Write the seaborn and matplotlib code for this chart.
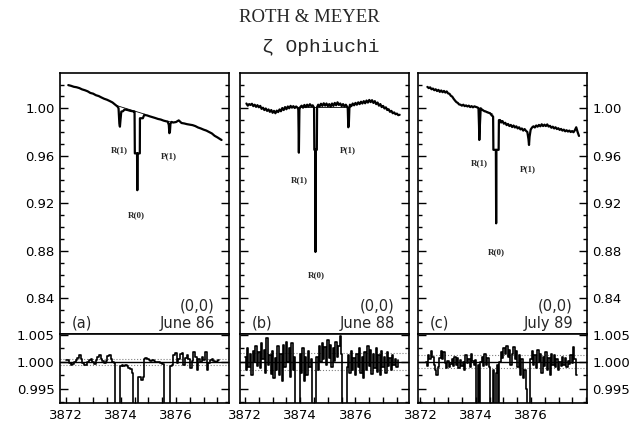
import numpy as np
import matplotlib
matplotlib.use('Agg')
import matplotlib.pyplot as plt
import seaborn as sns
from matplotlib.ticker import MultipleLocator, FormatStrFormatter, FixedLocator

sns.set_style('ticks')
plt.rcParams['font.family'] = ['DejaVu Sans']

# ---- panel (a) June 86 : normalised flux ----
wave_a = [3872.10, 3872.20, 3872.30, 3872.40, 3872.50, 3872.60, 3872.70, 3872.80, 3872.90, 3873.00,
          3873.10, 3873.20, 3873.30, 3873.40, 3873.50, 3873.60, 3873.70, 3873.80, 3873.88, 3873.92,
          3873.95, 3873.97, 3873.99, 3874.02, 3874.08, 3874.14, 3874.25, 3874.35, 3874.45, 3874.50,
          3874.51, 3874.59, 3874.60, 3874.61, 3874.69, 3874.695, 3874.80, 3874.85, 3874.95, 3875.05,
          3875.15, 3875.25, 3875.35, 3875.45, 3875.55, 3875.65, 3875.70, 3875.74, 3875.76, 3875.78,
          3875.80, 3875.84, 3875.90, 3876.00, 3876.10, 3876.20, 3876.30, 3876.40, 3876.50, 3876.60,
          3876.70, 3876.80, 3876.90, 3877.00, 3877.10, 3877.20, 3877.30, 3877.40, 3877.50, 3877.60,
          3877.65]
flux_a = [1.0195, 1.0189, 1.0181, 1.0177, 1.0170, 1.0159, 1.0152, 1.0143, 1.0129, 1.0123,
          1.0110, 1.0103, 1.0091, 1.0080, 1.0072, 1.0061, 1.0049, 1.0030, 1.0015, 1.0000,
          0.9870, 0.9845, 0.9900, 0.9972, 0.9975, 0.9990, 0.9985, 0.9978, 0.9974, 0.9972,
          0.9620, 0.9620, 0.9310, 0.9620, 0.9620, 0.9916, 0.9916, 0.9944, 0.9940, 0.9932,
          0.9925, 0.9918, 0.9910, 0.9905, 0.9896, 0.9890, 0.9888, 0.9860, 0.9790, 0.9800,
          0.9870, 0.9885, 0.9880, 0.9884, 0.9898, 0.9876, 0.9872, 0.9866, 0.9862, 0.9858,
          0.9850, 0.9838, 0.9830, 0.9820, 0.9812, 0.9800, 0.9788, 0.9768, 0.9755, 0.9740,
          0.9733]
fitw_a = [[3873.82, 3874.90], [3875.66, 3875.86]]
fitf_a = [[1.0025, 0.9948], [0.9890, 0.9884]]

# ---- panel (b) June 88 ----
wave_b = [3872.05, 3872.10, 3872.15, 3872.20, 3872.25, 3872.30, 3872.35, 3872.40, 3872.45, 3872.50,
          3872.55, 3872.60, 3872.65, 3872.70, 3872.75, 3872.80, 3872.85, 3872.90, 3872.95, 3873.00,
          3873.05, 3873.10, 3873.15, 3873.20, 3873.25, 3873.30, 3873.35, 3873.40, 3873.45, 3873.50,
          3873.55, 3873.60, 3873.65, 3873.70, 3873.75, 3873.80, 3873.85, 3873.90, 3873.93, 3873.95,
          3873.97, 3874.00, 3874.05, 3874.10, 3874.15, 3874.20, 3874.25, 3874.30, 3874.35, 3874.40,
          3874.45, 3874.50, 3874.51, 3874.54, 3874.55, 3874.56, 3874.60, 3874.61, 3874.65, 3874.70,
          3874.75, 3874.80, 3874.85, 3874.90, 3874.95, 3875.00, 3875.05, 3875.10, 3875.15, 3875.20,
          3875.25, 3875.30, 3875.35, 3875.40, 3875.45, 3875.50, 3875.55, 3875.60, 3875.65, 3875.70,
          3875.72, 3875.74, 3875.76, 3875.78, 3875.80, 3875.85, 3875.90, 3875.95, 3876.00, 3876.05,
          3876.10, 3876.15, 3876.20, 3876.25, 3876.30, 3876.35, 3876.40, 3876.45, 3876.50, 3876.55,
          3876.60, 3876.65, 3876.70, 3876.75, 3876.80, 3876.85, 3876.90, 3876.95, 3877.00, 3877.05,
          3877.10, 3877.15, 3877.20, 3877.25, 3877.30, 3877.35, 3877.40, 3877.45, 3877.50, 3877.55,
          3877.60]
flux_b = [1.0040, 1.0022, 1.0035, 1.0028, 1.0038, 1.0018, 1.0030, 1.0012, 1.0026, 1.0008,
          1.0020, 0.9995, 1.0005, 0.9985, 0.9998, 0.9978, 0.9990, 0.9970, 0.9985, 0.9962,
          0.9978, 0.9958, 0.9980, 0.9968, 0.9990, 0.9975, 1.0002, 0.9985, 1.0010, 0.9992,
          1.0015, 1.0000, 1.0020, 1.0005, 1.0018, 1.0002, 1.0015, 1.0005, 0.9990, 0.9626,
          0.9990, 1.0010, 1.0022, 1.0005, 1.0028, 1.0010, 1.0030, 1.0015, 1.0034, 1.0018,
          1.0025, 1.0005, 0.9650, 0.9650, 0.8790, 0.9650, 0.9650, 1.0010, 1.0030, 1.0015,
          1.0038, 1.0020, 1.0042, 1.0022, 1.0040, 1.0018, 1.0035, 1.0012, 1.0040, 1.0020,
          1.0045, 1.0025, 1.0050, 1.0028, 1.0040, 1.0018, 1.0035, 1.0015, 1.0030, 1.0012,
          1.0000, 0.9840, 0.9870, 1.0005, 1.0030, 1.0018, 1.0040, 1.0025, 1.0045, 1.0030,
          1.0050, 1.0035, 1.0055, 1.0040, 1.0060, 1.0042, 1.0065, 1.0048, 1.0070, 1.0052,
          1.0068, 1.0045, 1.0060, 1.0035, 1.0048, 1.0022, 1.0035, 1.0010, 1.0020, 0.9998,
          1.0008, 0.9985, 0.9992, 0.9970, 0.9978, 0.9958, 0.9965, 0.9950, 0.9955, 0.9942,
          0.9945]
fitw_b = [[3873.85, 3875.80]]
fitf_b = [[1.0012, 1.0012]]

# ---- panel (c) July 89 ----
wave_c = [3872.25, 3872.30, 3872.35, 3872.40, 3872.45, 3872.50, 3872.55, 3872.60, 3872.65, 3872.70,
          3872.75, 3872.80, 3872.85, 3872.90, 3872.95, 3873.00, 3873.05, 3873.10, 3873.15, 3873.20,
          3873.25, 3873.30, 3873.35, 3873.40, 3873.45, 3873.50, 3873.55, 3873.60, 3873.65, 3873.70,
          3873.75, 3873.80, 3873.85, 3873.90, 3873.95, 3874.00, 3874.05, 3874.10, 3874.12, 3874.13,
          3874.15, 3874.18, 3874.22, 3874.27, 3874.32, 3874.37, 3874.42, 3874.47, 3874.52, 3874.58,
          3874.63, 3874.64, 3874.73, 3874.74, 3874.75, 3874.83, 3874.84, 3874.88, 3874.92, 3874.97,
          3875.02, 3875.07, 3875.12, 3875.17, 3875.22, 3875.27, 3875.32, 3875.37, 3875.42, 3875.47,
          3875.52, 3875.57, 3875.62, 3875.67, 3875.72, 3875.77, 3875.82, 3875.87, 3875.91, 3875.93,
          3875.95, 3875.99, 3876.04, 3876.09, 3876.14, 3876.19, 3876.24, 3876.29, 3876.34, 3876.39,
          3876.44, 3876.49, 3876.54, 3876.59, 3876.64, 3876.69, 3876.74, 3876.79, 3876.84, 3876.89,
          3876.94, 3876.99, 3877.04, 3877.09, 3877.14, 3877.19, 3877.24, 3877.29, 3877.34, 3877.39,
          3877.44, 3877.49, 3877.54, 3877.59, 3877.64, 3877.69, 3877.74]
flux_c = [1.0180, 1.0170, 1.0176, 1.0160, 1.0166, 1.0152, 1.0160, 1.0145, 1.0155, 1.0138,
          1.0150, 1.0135, 1.0146, 1.0132, 1.0142, 1.0125, 1.0122, 1.0105, 1.0098, 1.0080,
          1.0065, 1.0052, 1.0045, 1.0032, 1.0030, 1.0022, 1.0030, 1.0018, 1.0024, 1.0015,
          1.0022, 1.0010, 1.0018, 1.0008, 1.0016, 1.0012, 1.0008, 1.0002, 0.9850, 0.9733,
          0.9850, 1.0000, 0.9990, 0.9982, 0.9975, 0.9972, 0.9966, 0.9962, 0.9958, 0.9940,
          0.9930, 0.9650, 0.9650, 0.9031, 0.9650, 0.9650, 0.9900, 0.9901, 0.9880, 0.9892,
          0.9870, 0.9878, 0.9858, 0.9868, 0.9850, 0.9860, 0.9842, 0.9855, 0.9838, 0.9848,
          0.9830, 0.9840, 0.9822, 0.9830, 0.9812, 0.9825, 0.9810, 0.9800, 0.9740, 0.9691,
          0.9760, 0.9820, 0.9838, 0.9848, 0.9838, 0.9855, 0.9845, 0.9860, 0.9848, 0.9865,
          0.9850, 0.9862, 0.9850, 0.9864, 0.9846, 0.9852, 0.9836, 0.9845, 0.9830, 0.9840,
          0.9825, 0.9832, 0.9818, 0.9826, 0.9812, 0.9820, 0.9806, 0.9815, 0.9804, 0.9812,
          0.9800, 0.9808, 0.9798, 0.9815, 0.9840, 0.9800, 0.9767]
fitw_c = [[3874.00, 3874.62], [3874.84, 3874.92]]
fitf_c = [[1.0010, 0.9950], [0.9901, 0.9901]]

# ---- residuals (data / fit) ----
rwave_a = [3872.03, 3872.10, 3872.16, 3872.22, 3872.28, 3872.34, 3872.40, 3872.46, 3872.52, 3872.58,
           3872.64, 3872.70, 3872.76, 3872.82, 3872.88, 3872.94, 3873.00, 3873.06, 3873.12, 3873.18,
           3873.24, 3873.30, 3873.36, 3873.42, 3873.48, 3873.54, 3873.60, 3873.66, 3873.72, 3873.78,
           3873.82, 3873.88, 3873.96, 3874.00, 3874.06, 3874.12, 3874.18, 3874.24, 3874.30, 3874.36,
           3874.42, 3874.48, 3874.54, 3874.60, 3874.64, 3874.70, 3874.76, 3874.82, 3874.86, 3874.92,
           3874.98, 3875.04, 3875.10, 3875.16, 3875.22, 3875.28, 3875.34, 3875.40, 3875.46, 3875.52,
           3875.58, 3875.64, 3875.70, 3875.76, 3875.82, 3875.88, 3875.94, 3876.00, 3876.06, 3876.12,
           3876.18, 3876.24, 3876.30, 3876.36, 3876.42, 3876.48, 3876.54, 3876.60, 3876.66, 3876.72,
           3876.78, 3876.84, 3876.90, 3876.96, 3877.02, 3877.08, 3877.14, 3877.20, 3877.26, 3877.32,
           3877.38, 3877.44, 3877.50, 3877.56]
resid_a = [1.0004, 1.0003, 0.9997, 0.9994, 0.9996, 1.0000, 1.0003, 1.0008, 1.0012, 1.0006,
           0.9998, 0.9994, 0.9995, 1.0000, 1.0004, 1.0006, 1.0000, 0.9996, 1.0003, 1.0009,
           1.0012, 1.0006, 1.0001, 0.9998, 1.0002, 1.0011, 1.0013, 1.0005, 1.0000, 0.9998,
           0.9900, 0.9900, 0.9900, 0.9992, 0.9994, 0.9993, 0.9994, 0.9992, 0.9989, 0.9986,
           0.9980, 0.9900, 0.9900, 0.9900, 0.9972, 0.9971, 0.9966, 0.9972, 1.0006, 1.0007,
           1.0005, 1.0004, 1.0002, 1.0003, 1.0001, 1.0000, 0.9999, 1.0000, 0.9997, 0.9996,
           0.9900, 0.9900, 0.9900, 0.9900, 0.9992, 0.9994, 1.0012, 1.0016, 0.9998, 1.0006,
           1.0015, 1.0016, 0.9995, 1.0008, 1.0013, 1.0005, 0.9988, 1.0002, 1.0018, 1.0010,
           0.9985, 1.0006, 1.0000, 1.0010, 1.0003, 1.0019, 0.9985, 0.9998, 1.0004, 1.0006,
           1.0002, 1.0000, 1.0002, 1.0004]

rwave_b = [3872.00, 3872.05, 3872.10, 3872.15, 3872.20, 3872.25, 3872.30, 3872.35, 3872.40, 3872.45,
           3872.50, 3872.55, 3872.60, 3872.65, 3872.70, 3872.75, 3872.80, 3872.85, 3872.90, 3872.95,
           3873.00, 3873.05, 3873.10, 3873.15, 3873.20, 3873.25, 3873.30, 3873.35, 3873.40, 3873.45,
           3873.50, 3873.55, 3873.60, 3873.65, 3873.70, 3873.75, 3873.80, 3873.85, 3873.90, 3873.95,
           3874.00, 3874.05, 3874.10, 3874.15, 3874.20, 3874.25, 3874.30, 3874.35, 3874.40, 3874.45,
           3874.50, 3874.55, 3874.60, 3874.65, 3874.70, 3874.75, 3874.80, 3874.85, 3874.90, 3874.95,
           3875.00, 3875.05, 3875.10, 3875.15, 3875.20, 3875.25, 3875.30, 3875.35, 3875.40, 3875.45,
           3875.50, 3875.55, 3875.60, 3875.65, 3875.70, 3875.75, 3875.80, 3875.85, 3875.90, 3875.95,
           3876.00, 3876.05, 3876.10, 3876.15, 3876.20, 3876.25, 3876.30, 3876.35, 3876.40, 3876.45,
           3876.50, 3876.55, 3876.60, 3876.65, 3876.70, 3876.75, 3876.80, 3876.85, 3876.90, 3876.95,
           3877.00, 3877.05, 3877.10, 3877.15, 3877.20, 3877.25, 3877.30, 3877.35, 3877.40, 3877.45,
           3877.50, 3877.55]
resid_b = [1.0010, 0.9985, 1.0025, 0.9990, 1.0015, 0.9975, 1.0020, 1.0000, 1.0030, 0.9992,
           1.0018, 0.9988, 1.0035, 1.0005, 1.0022, 0.9980, 1.0045, 0.9995, 1.0012, 0.9978,
           1.0020, 0.9970, 1.0008, 0.9985, 1.0030, 0.9975, 1.0015, 0.9965, 1.0032, 0.9990,
           1.0038, 1.0000, 1.0025, 0.9972, 1.0035, 0.9985, 1.0010, 0.9900, 0.9900, 0.9900,
           1.0015, 0.9980, 1.0025, 0.9965, 1.0010, 0.9975, 1.0020, 0.9990, 1.0005, 0.9900,
           0.9900, 0.9900, 1.0010, 0.9985, 1.0030, 1.0000, 1.0035, 1.0005, 1.0028, 0.9995,
           1.0040, 1.0008, 1.0032, 0.9990, 1.0025, 1.0002, 1.0038, 1.0010, 1.0030, 1.0048,
           1.0015, 0.9900, 0.9900, 0.9900, 0.9990, 1.0012, 0.9980, 1.0020, 0.9985, 1.0008,
           0.9975, 1.0015, 0.9990, 1.0025, 0.9980, 1.0010, 0.9970, 1.0018, 0.9985, 1.0030,
           0.9992, 1.0022, 0.9978, 1.0015, 0.9988, 1.0026, 0.9982, 1.0012, 0.9975, 1.0020,
           0.9990, 1.0010, 0.9980, 1.0018, 0.9992, 1.0008, 0.9985, 1.0012, 0.9995, 1.0005,
           0.9990, 1.0003]

rwave_c = [3872.20, 3872.25, 3872.30, 3872.35, 3872.40, 3872.45, 3872.50, 3872.55, 3872.60, 3872.65,
           3872.70, 3872.75, 3872.80, 3872.85, 3872.90, 3872.95, 3873.00, 3873.05, 3873.10, 3873.15,
           3873.20, 3873.25, 3873.30, 3873.35, 3873.40, 3873.45, 3873.50, 3873.55, 3873.60, 3873.65,
           3873.70, 3873.75, 3873.80, 3873.85, 3873.90, 3873.95, 3874.00, 3874.04, 3874.10, 3874.14,
           3874.19, 3874.24, 3874.29, 3874.34, 3874.39, 3874.44, 3874.49, 3874.52, 3874.62, 3874.65,
           3874.70, 3874.75, 3874.80, 3874.84, 3874.88, 3874.93, 3874.98, 3875.03, 3875.08, 3875.13,
           3875.18, 3875.23, 3875.28, 3875.33, 3875.38, 3875.43, 3875.48, 3875.53, 3875.58, 3875.63,
           3875.68, 3875.73, 3875.78, 3875.83, 3875.86, 3875.96, 3876.00, 3876.05, 3876.10, 3876.15,
           3876.20, 3876.25, 3876.30, 3876.35, 3876.40, 3876.45, 3876.50, 3876.55, 3876.60, 3876.65,
           3876.70, 3876.75, 3876.80, 3876.85, 3876.90, 3876.95, 3877.00, 3877.05, 3877.10, 3877.15,
           3877.20, 3877.25, 3877.30, 3877.35, 3877.40, 3877.45, 3877.50, 3877.55, 3877.60, 3877.65]
resid_c = [1.0000, 0.9992, 1.0012, 1.0005, 1.0020, 1.0010, 0.9995, 0.9985, 0.9975, 0.9990,
           1.0008, 1.0020, 1.0005, 1.0018, 0.9998, 0.9988, 1.0002, 0.9990, 0.9996, 1.0006,
           0.9992, 1.0010, 0.9995, 1.0008, 0.9988, 1.0004, 0.9992, 1.0000, 0.9985, 1.0012,
           0.9998, 1.0006, 0.9990, 1.0015, 1.0002, 0.9994, 1.0004, 0.9900, 0.9995, 0.9900,
           1.0000, 1.0010, 0.9992, 1.0015, 0.9995, 1.0008, 0.9990, 0.9900, 0.9900, 0.9985,
           0.9900, 0.9980, 0.9995, 0.9900, 1.0000, 1.0018, 1.0008, 1.0025, 1.0015, 1.0030,
           1.0010, 1.0022, 0.9995, 1.0015, 1.0028, 1.0005, 1.0020, 0.9990, 1.0012, 0.9975,
           1.0005, 0.9970, 0.9985, 0.9950, 0.9900, 0.9900, 1.0005, 1.0020, 0.9995, 1.0012,
           0.9988, 1.0022, 1.0000, 1.0015, 0.9980, 1.0010, 0.9992, 1.0018, 0.9985, 1.0008,
           0.9975, 1.0015, 0.9995, 1.0012, 0.9990, 1.0005, 0.9985, 1.0000, 0.9992, 1.0010,
           0.9995, 1.0008, 0.9990, 1.0002, 0.9996, 1.0012, 0.9998, 1.0028, 1.0005, 0.9975]

sigma = [0.0006, 0.0016, 0.0012]
panel_tags = ['(a)', '(b)', '(c)']
dates = ['June 86', 'June 88', 'July 89']
band = '(0,0)'
line_names = ['R(1)', 'R(0)', 'P(1)']
label_pos = [[(3873.96, 0.965), (3874.58, 0.910), (3875.75, 0.960)],
             [(3873.96, 0.9396), (3874.57, 0.8596), (3875.71, 0.965)],
             [(3874.12, 0.954), (3874.76, 0.879), (3875.90, 0.949)]]
xtick_vals = [3872, 3874, 3876]

waves = [wave_a, wave_b, wave_c]
fluxes = [flux_a, flux_b, flux_c]
fitws = [fitw_a, fitw_b, fitw_c]
fitfs = [fitf_a, fitf_b, fitf_c]
rwaves = [rwave_a, rwave_b, rwave_c]
resids = [resid_a, resid_b, resid_c]
xlims = [(3871.80, 3877.92), (3871.80, 3877.92), (3871.91, 3878.03)]

W, H = 632, 429
fig = plt.figure(figsize=(W / 100, H / 100), dpi=100)
fig.patch.set_facecolor('white')

lefts = [60, 239.5, 418]
pw = 169

fig.text(309 / W, 1 - 18 / H, 'ROTH & MEYER', ha='center', va='center',
         fontsize=13.5, family='Liberation Serif')
fig.text(321 / W, 1 - 47 / H, '\u03b6 Ophiuchi', ha='center', va='center',
         fontsize=14, family=['Liberation Mono', 'DejaVu Sans'])


def style_axis(ax):
    for s in ax.spines.values():
        s.set_linewidth(1.2)
        s.set_color('black')
    ax.tick_params(which='both', direction='in', top=False, right=True, left=True,
                   width=1.0, colors='black', labelsize=9.5)
    ax.tick_params(which='major', length=6)
    ax.tick_params(which='minor', length=3)
    ax.set_xlabel('')
    ax.set_ylabel('')


for i in range(3):
    x0 = lefts[i] / W
    up = fig.add_axes([x0, 95 / H, pw / W, 261 / H])
    lo = fig.add_axes([x0, 26 / H, pw / W, 69 / H])

    # spectrum
    for fw, ff in zip(fitws[i], fitfs[i]):
        sns.lineplot(x=fw, y=ff, ax=up, color='black', lw=0.6, estimator=None, sort=False)
    sns.lineplot(x=waves[i], y=fluxes[i], ax=up, color='black', lw=1.6,
                 estimator=None, sort=False)
    up.set_xlim(*xlims[i])
    up.set_ylim(0.8099, 1.0297)
    style_axis(up)
    up.yaxis.set_major_locator(MultipleLocator(0.04))
    up.yaxis.set_minor_locator(MultipleLocator(0.01))
    up.yaxis.set_major_formatter(FormatStrFormatter('%.2f'))
    up.tick_params(axis='x', which='both', bottom=False, top=False, labelbottom=False)
    for name, (lx, ly) in zip(line_names, label_pos[i]):
        up.text(lx, ly, name, ha='center', va='center', fontsize=6.5,
                family='Liberation Serif', fontweight='bold')
    up.text(0.917, 0.107, band, transform=up.transAxes, ha='right', va='center', fontsize=10.5)
    up.text(0.917, 0.042, dates[i], transform=up.transAxes, ha='right', va='center', fontsize=10.5)
    up.text(0.07, 0.042, panel_tags[i], transform=up.transAxes, ha='left', va='center', fontsize=10.5)

    # residuals
    lo.axhline(1.0, color='black', lw=1.0)
    lo.axhline(1.0 + sigma[i], color='gray', lw=0.8, ls=':')
    lo.axhline(1.0 - sigma[i], color='gray', lw=0.8, ls=':')
    sns.lineplot(x=rwaves[i], y=resids[i], ax=lo, color='black', lw=1.2,
                 estimator=None, sort=False, drawstyle='steps-mid')
    lo.set_xlim(*xlims[i])
    lo.set_ylim(0.99232, 1.0052)
    style_axis(lo)
    lo.xaxis.set_major_locator(FixedLocator(xtick_vals))
    lo.xaxis.set_minor_locator(MultipleLocator(0.5))
    lo.xaxis.set_major_formatter(FormatStrFormatter('%d'))
    lo.tick_params(axis='x', which='both', bottom=True, top=False, length=4, pad=4)
    lo.yaxis.set_major_locator(MultipleLocator(0.005))
    lo.yaxis.set_minor_locator(MultipleLocator(0.0025))
    lo.yaxis.set_major_formatter(FormatStrFormatter('%.3f'))

    if i == 0:
        up.tick_params(axis='y', labelleft=True, labelright=False, pad=4)
        lo.tick_params(axis='y', labelleft=True, labelright=False, pad=4)
    elif i == 2:
        up.tick_params(axis='y', labelleft=False, labelright=True, pad=4)
        lo.tick_params(axis='y', labelleft=False, labelright=True, pad=4)
    else:
        up.tick_params(axis='y', labelleft=False, labelright=False)
        lo.tick_params(axis='y', labelleft=False, labelright=False)

fig.savefig('out.png', dpi=100, facecolor='white')
